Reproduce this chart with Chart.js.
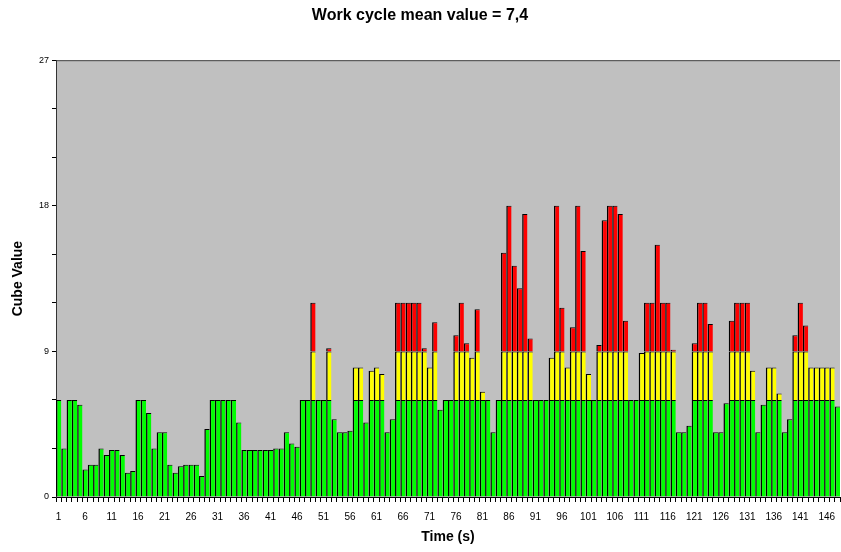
<!DOCTYPE html>
<html>
<head>
<meta charset="utf-8">
<script src="https://cdn.jsdelivr.net/npm/chart.js@4.4.1/dist/chart.umd.min.js"></script>
<style>
html, body { margin: 0; padding: 0; background: #fff; }
</style>
</head>
<body>
<canvas id="grafico" width="841" height="552"></canvas>
<script>
// Valores (segundos 1..148)
const segundos = Array.from({ length: 148 }, (_, i) => String(i + 1));

const cubeValue = [
    6, 3, 6, 6, 5.7, 1.7, 2, 2, 3, 2.6,
    2.9, 2.9, 2.6, 1.5, 1.6, 6, 6, 5.2, 3, 4,
    4, 2, 1.5, 1.9, 2, 2, 2, 1.3, 4.2, 6,
    6, 6, 6, 6, 4.6, 2.9, 2.9, 2.9, 2.9, 2.9,
    2.9, 3, 3, 4, 3.3, 3.1, 6, 6, 12, 6,
    6, 9.2, 4.8, 4, 4, 4.1, 8, 8, 4.6, 7.8,
    8, 7.6, 4, 4.8, 12, 12, 12, 12, 12, 9.2,
    8, 10.8, 5.4, 6, 6, 10, 12, 9.5, 8.6, 11.6,
    6.5, 6, 4, 6, 15.1, 18, 14.3, 12.9, 17.5, 9.8,
    6, 6, 6, 8.6, 18, 11.7, 8, 10.5, 18, 15.2,
    7.6, 6, 9.4, 17.1, 18, 18, 17.5, 10.9, 6, 6,
    8.9, 12, 12, 15.6, 12, 12, 9.1, 4, 4, 4.4,
    9.5, 12, 12, 10.7, 4, 4, 5.8, 10.9, 12, 12,
    12, 7.8, 4, 5.7, 8, 8, 6.4, 4, 4.8, 10,
    12, 10.6, 8, 8, 8, 8, 8, 5.6
];

// Limites de zona
const limiteVerde = 6;
const limiteAmarillo = 9;
const etiquetasY = [0, 9, 18, 27];

const verde = cubeValue.map(v => Math.min(v, limiteVerde));
const amarillo = cubeValue.map(v => v > limiteVerde ? Math.min(v, limiteAmarillo) - limiteVerde : null);
const rojo = cubeValue.map(v => v > limiteAmarillo ? v - limiteAmarillo : null);

const fuente = "'Liberation Sans', Arial, sans-serif";

// Fondo gris del area de dibujo
const fondo = {
    id: "fondo",
    beforeDraw(chart) {
        const { ctx, chartArea: a } = chart;
        ctx.save();
        ctx.fillStyle = "#c0c0c0";
        ctx.fillRect(a.left, a.top, a.right - a.left, a.bottom - a.top);
        ctx.strokeStyle = "#444";
        ctx.lineWidth = 1;
        ctx.beginPath();
        ctx.moveTo(a.left, a.top + 0.5);
        ctx.lineTo(a.right, a.top + 0.5);
        ctx.stroke();
        ctx.restore();
    }
};

const borde = { top: 1, left: 1.5, right: 0, bottom: 0 };

new Chart(document.getElementById("grafico"), {
    type: "bar",
    data: {
        labels: segundos,
        datasets: [
            { data: verde, backgroundColor: "#00ff00", borderColor: "#000", borderWidth: borde },
            { data: amarillo, backgroundColor: "#ffff00", borderColor: "#000", borderWidth: borde },
            { data: rojo, backgroundColor: "#ff0000", borderColor: "#000", borderWidth: borde }
        ]
    },
    options: {
        responsive: false,
        animation: false,
        devicePixelRatio: 1,
        datasets: { bar: { categoryPercentage: 1, barPercentage: 1, borderSkipped: "start", inflateAmount: 0 } },
        layout: { padding: { left: 0, right: 1, top: 0, bottom: 0 } },
        plugins: {
            legend: { display: false },
            tooltip: { enabled: false },
            title: {
                display: true,
                text: "Work cycle mean value = 7,4",
                color: "#000",
                font: { family: fuente, size: 16, weight: "bold" },
                padding: { top: 6, bottom: 35 }
            }
        },
        scales: {
            x: {
                stacked: true,
                afterFit(scale) {
                    scale.height = 55;
                    scale.paddingLeft = 0;
                    scale.paddingRight = 0;
                },
                grid: { drawOnChartArea: false, tickLength: 5, color: "#000", offset: true },
                border: { color: "#000" },
                ticks: {
                    autoSkip: false,
                    maxRotation: 0,
                    minRotation: 0,
                    padding: 9,
                    color: "#000",
                    font: { family: fuente, size: 10 },
                    callback: (v, i) => i % 5 === 0 ? segundos[i] : ""
                },
                title: {
                    display: true,
                    text: "Time (s)",
                    color: "#000",
                    font: { family: fuente, size: 14, weight: "bold" },
                    padding: { top: 0, bottom: 6 }
                }
            },
            y: {
                stacked: true,
                min: 0,
                max: 27,
                afterFit(scale) { scale.width = 56; },
                grid: { drawOnChartArea: false, tickLength: 4, color: "#000" },
                border: { color: "#333" },
                ticks: {
                    stepSize: 3,
                    autoSkip: false,
                    padding: 3,
                    color: "#000",
                    font: { family: fuente, size: 9 },
                    callback: v => etiquetasY.includes(v) ? v : ""
                },
                title: {
                    display: true,
                    text: "Cube Value",
                    color: "#000",
                    font: { family: fuente, size: 14, weight: "bold" },
                    padding: { top: 10, bottom: 0 }
                }
            }
        }
    },
    plugins: [fondo]
});
</script>
</body>
</html>
